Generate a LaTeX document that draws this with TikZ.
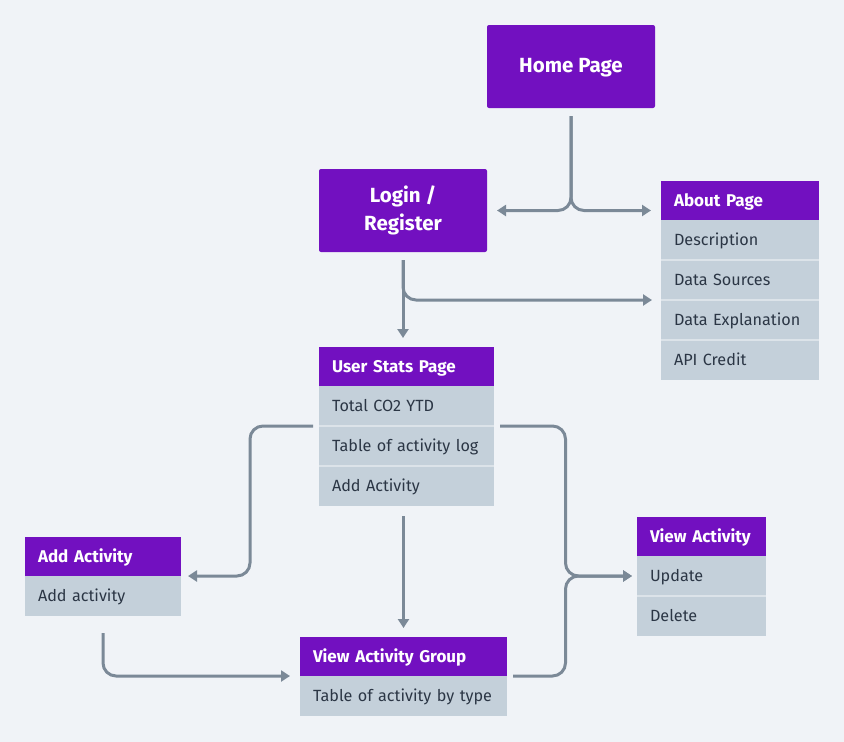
\documentclass[tikz,border=0pt]{standalone}
\usepackage{fontspec}
\setmainfont{Fira Sans}
\usetikzlibrary{positioning, arrows.meta, calc}
\definecolor{bgc}{HTML}{F0F3F7}
\definecolor{hpurple}{HTML}{7210C0}
\definecolor{rowc}{HTML}{C4D0DA}
\definecolor{sepc}{HTML}{DCE3E9}
\definecolor{linkc}{HTML}{7B8997}
\definecolor{txtc}{HTML}{2B3645}

\begin{document}
\begin{tikzpicture}[x=1pt, y=-1pt,
      every node/.style={inner sep=0pt, outer sep=0pt},
      bigbox/.style={fill=hpurple, rounded corners=2pt, text=white, minimum width=168pt, minimum height=83pt, align=center, font=\fontsize{20.5}{28}\selectfont\bfseries},
      head/.style={fill=hpurple, text=white, text width=#1, inner xsep=13pt, minimum height=39pt, align=left, text height=14pt, text depth=3pt, font=\fontsize{17}{19}\selectfont\bfseries},
      row/.style={fill=rowc, text=txtc, text width=#1, inner xsep=13pt, minimum height=40pt, align=left, text height=14pt, text depth=3pt, font=\fontsize{16.2}{19}\selectfont},
      sepl/.style={draw=sepc, line width=2pt},
      conn/.style={draw=linkc, line width=3pt, rounded corners=13pt},
      arr/.style={conn, -{Triangle[length=9pt, width=11pt]}},
  ]
    \fill[bgc] (0,0) rectangle (844,742);
    \useasboundingbox (0,0) rectangle (844,742);

    % plain pages
    \node[bigbox] (home) at (571,66.5) {\strut Home Page};
    \node[bigbox] (login) at (403,210.5) {Login /\\Register};

    % about page
    \node[head=132pt, anchor=north west] (abh) at (661,181) {About Page};
    \node[row=132pt, below=0pt of abh] (ab1) {Description};
    \node[row=132pt, below=0pt of ab1] (ab2) {Data Sources};
    \node[row=132pt, below=0pt of ab2] (ab3) {Data Explanation};
    \node[row=132pt, below=0pt of ab3] (ab4) {API Credit};
    \draw[sepl] (ab1.south west) -- (ab1.south east);
    \draw[sepl] (ab2.south west) -- (ab2.south east);
    \draw[sepl] (ab3.south west) -- (ab3.south east);

    % user stats page
    \node[head=149pt, anchor=north west] (sth) at (319,347) {User Stats Page};
    \node[row=149pt, below=0pt of sth] (st1) {Total CO2 YTD};
    \node[row=149pt, below=0pt of st1] (st2) {Table of activity log};
    \node[row=149pt, below=0pt of st2] (st3) {Add Activity};
    \draw[sepl] (st1.south west) -- (st1.south east);
    \draw[sepl] (st2.south west) -- (st2.south east);

    % add activity
    \node[head=130pt, anchor=north west] (adh) at (25,537) {Add Activity};
    \node[row=130pt, below=0pt of adh] (ad1) {Add activity};

    % view activity
    \node[head=103pt, anchor=north west] (vah) at (637,517) {View Activity};
    \node[row=103pt, below=0pt of vah] (va1) {Update};
    \node[row=103pt, below=0pt of va1] (va2) {Delete};
    \draw[sepl] (va1.south west) -- (va1.south east);

    % view activity group
    \node[head=181pt, anchor=north west] (vgh) at (300,637) {View Activity Group};
    \node[row=181pt, below=0pt of vgh] (vg1) {Table of activity by type};

    % connectors
    \coordinate (ljoin) at ($(adh.east)!0.5!(st1.west)$);
    \coordinate (rjoin) at ($(st1.east)!0.5!(va1.west)$);

    \draw[arr, shorten <=8pt, shorten >=10pt] (home.south) |- (login.east);
    \draw[arr, shorten <=8pt, shorten >=10pt] (home.south) |- (login.east -| abh.west);

    \draw[arr, shorten <=8pt, shorten >=9pt] (login.south) -- (login.south |- sth.north);
    \draw[arr, shorten <=8pt, shorten >=9pt] (login.south) |- (ab2.south west);

    \draw[arr, shorten <=6pt, shorten >=7pt] (st1.south west) -| (ljoin |- adh.south east) -- (adh.south east);
    \draw[arr, shorten <=6pt, shorten >=5pt] (st1.south east) -| (rjoin |- va1.west) -- (va1.west);
    \draw[arr, shorten <=10pt, shorten >=9pt] (vgh.north |- st3.south) -- (vgh.north);

    \draw[arr, shorten <=17pt, shorten >=10pt] (ad1.south) |- (vgh.south west);
    \draw[arr, shorten <=6pt, shorten >=5pt] (vgh.south east) -| (rjoin |- va1.west) -- (va1.west);
  \end{tikzpicture}
\end{document}
